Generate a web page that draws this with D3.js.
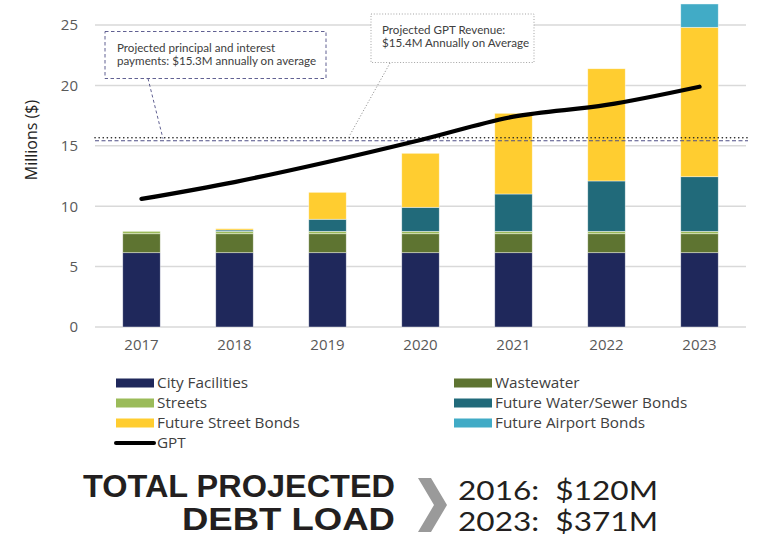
<!DOCTYPE html>
<html>
<head>
<meta charset="utf-8">
<script src="https://cdn.jsdelivr.net/npm/d3@7"></script>
<style>
  body { margin: 0; background: #fff; }
  svg { display: block; }
</style>
</head>
<body>
<svg id="chart"></svg>
<script>
// Data (millions of $)
const years = ["2017", "2018", "2019", "2020", "2021", "2022", "2023"];
const cityFacilities = [6.15, 6.15, 6.15, 6.15, 6.15, 6.15, 6.15];
const wastewater = [1.57, 1.57, 1.57, 1.57, 1.57, 1.57, 1.57];
const streets = [0.2, 0.2, 0.2, 0.2, 0.2, 0.2, 0.2];
const waterSewerBonds = [0, 0.11, 1.0, 1.99, 3.09, 4.17, 4.52];
const streetBonds = [0, 0.11, 2.23, 4.47, 6.68, 9.29, 12.37];
const airportBonds = [0, 0, 0, 0, 0, 0, 1.93];
const gpt = [10.6, 12.0, 13.66, 15.48, 17.41, 18.38, 19.89];
const yTicks = [0, 5, 10, 15, 20, 25];
const gptAverage = 15.67;      // dotted line
const paymentAverage = 15.42;  // dashed line

const seriesNames = ["City Facilities", "Wastewater", "Streets", "Future Water/Sewer Bonds", "Future Street Bonds", "Future Airport Bonds"];
const seriesValues = [cityFacilities, wastewater, streets, waterSewerBonds, streetBonds, airportBonds];
const colors = ["#1f285b", "#5e7431", "#9bbb59", "#216a7a", "#ffcd30", "#41abc6"];

const width = 762, height = 537;
const svg = d3.select("#chart").attr("width", width).attr("height", height);

const x = d3.scaleBand().domain(years).range([95, 746]).paddingInner(0.597).paddingOuter(0.2985);
const y = d3.scaleLinear().domain([0, 25]).range([327, 25]);

// build rows for the stack
const rows = years.map((yr, i) => {
    const r = { year: yr };
    seriesNames.forEach((n, k) => r[n] = seriesValues[k][i]);
    return r;
});
const stacked = d3.stack().keys(seriesNames)(rows);

// gridlines
svg.append("g")
    .selectAll("line")
    .data(yTicks)
    .join("line")
    .attr("x1", 95).attr("x2", 746)
    .attr("y1", d => y(d)).attr("y2", d => y(d))
    .attr("stroke", "#d9d9d9")
    .attr("stroke-width", 1.5);

// y axis labels
const yAxis = svg.append("g")
    .attr("transform", "translate(95,0)")
    .call(d3.axisLeft(y).tickValues(yTicks).tickSize(0).tickPadding(17));
yAxis.select(".domain").remove();
yAxis.selectAll("text")
    .attr("fill", "#595959")
    .style("font-family", "'Open Sans', sans-serif")
    .style("font-size", "15px");

// x axis labels
const xAxis = svg.append("g")
    .attr("transform", "translate(0,327)")
    .call(d3.axisBottom(x).tickSize(0).tickPadding(12));
xAxis.select(".domain").remove();
xAxis.selectAll("text")
    .attr("fill", "#595959")
    .style("font-family", "'Open Sans', sans-serif")
    .style("font-size", "15px");

// axis title
svg.append("text")
    .attr("transform", "translate(37,140) rotate(-90)")
    .attr("text-anchor", "middle")
    .attr("fill", "#222")
    .style("font-family", "'Open Sans', sans-serif")
    .style("font-size", "16px")
    .text("Millions ($)");

// stacked bars
svg.append("g")
    .selectAll("g")
    .data(stacked)
    .join("g")
    .attr("fill", (d, i) => colors[i])
    .selectAll("rect")
    .data(d => d.filter(p => p[1] - p[0] > 0))
    .join("rect")
    .attr("x", d => x(d.data.year))
    .attr("width", x.bandwidth())
    .attr("y", d => y(d[1]))
    .attr("height", d => y(d[0]) - y(d[1]))
    .attr("stroke", "#fff")
    .attr("stroke-opacity", 0.6)
    .attr("stroke-width", 0.7);

// average lines
svg.append("line")
    .attr("x1", 95).attr("x2", 748)
    .attr("y1", y(paymentAverage)).attr("y2", y(paymentAverage))
    .attr("stroke", "#4f4f86")
    .attr("stroke-width", 1.2)
    .attr("stroke-dasharray", "4,2.5");
svg.append("line")
    .attr("x1", 95).attr("x2", 748)
    .attr("y1", y(gptAverage)).attr("y2", y(gptAverage))
    .attr("stroke", "#222")
    .attr("stroke-width", 1.6)
    .attr("stroke-linecap", "round")
    .attr("stroke-dasharray", "0.1,4");

// GPT line
const line = d3.line()
    .x((d, i) => x(years[i]) + x.bandwidth() / 2)
    .y(d => y(d))
    .curve(d3.curveMonotoneX);
svg.append("path")
    .datum(gpt)
    .attr("d", line)
    .attr("fill", "none")
    .attr("stroke", "#000")
    .attr("stroke-width", 4.3)
    .attr("stroke-linecap", "round");

// annotation: payments
svg.append("line")
    .attr("x1", 148).attr("y1", 78.5).attr("x2", 163).attr("y2", y(paymentAverage) - 2)
    .attr("stroke", "#4f4f86").attr("stroke-width", 0.9).attr("stroke-dasharray", "3,2.5");
svg.append("rect")
    .attr("x", 105).attr("y", 31.5).attr("width", 221).attr("height", 47)
    .attr("fill", "#fff")
    .attr("stroke", "#4f4f86").attr("stroke-width", 0.9).attr("stroke-dasharray", "3.5,2.5");
const ann1 = svg.append("text")
    .attr("fill", "#404040")
    .style("font-family", "Lato, sans-serif")
    .style("font-size", "11.6px");
ann1.append("tspan").attr("x", 117).attr("y", 52).text("Projected principal and interest");
ann1.append("tspan").attr("x", 117).attr("y", 65).text("payments: $15.3M annually on average");

// annotation: GPT revenue
svg.append("line")
    .attr("x1", 390).attr("y1", 63).attr("x2", 349).attr("y2", y(gptAverage) - 1)
    .attr("stroke", "#777").attr("stroke-width", 0.9).attr("stroke-dasharray", "1,2");
svg.append("rect")
    .attr("x", 371).attr("y", 14).attr("width", 163).attr("height", 48.5)
    .attr("fill", "#fff")
    .attr("stroke", "#999").attr("stroke-width", 0.9).attr("stroke-dasharray", "1,1.8");
const ann2 = svg.append("text")
    .attr("fill", "#404040")
    .style("font-family", "Lato, sans-serif")
    .style("font-size", "11.6px");
ann2.append("tspan").attr("x", 382).attr("y", 34).text("Projected GPT Revenue:");
ann2.append("tspan").attr("x", 382).attr("y", 47).text("$15.4M Annually on Average");

// legend
const legendItems = [
    { name: "City Facilities", color: colors[0], col: 0, row: 0 },
    { name: "Wastewater", color: colors[1], col: 1, row: 0 },
    { name: "Streets", color: colors[2], col: 0, row: 1 },
    { name: "Future Water/Sewer Bonds", color: colors[3], col: 1, row: 1 },
    { name: "Future Street Bonds", color: colors[4], col: 0, row: 2 },
    { name: "Future Airport Bonds", color: colors[5], col: 1, row: 2 },
    { name: "GPT", color: "#000", col: 0, row: 3, isLine: true }
];
const legend = svg.append("g")
    .selectAll("g")
    .data(legendItems)
    .join("g")
    .attr("transform", d => `translate(${d.col ? 454 : 116},${383 + d.row * 20})`);
legend.filter(d => !d.isLine).append("rect")
    .attr("x", 0).attr("y", -4.5).attr("width", 38).attr("height", 9)
    .attr("fill", d => d.color);
legend.filter(d => d.isLine).append("line")
    .attr("x1", 0).attr("x2", 38).attr("y1", 0).attr("y2", 0)
    .attr("stroke", "#000").attr("stroke-width", 4).attr("stroke-linecap", "round");
legend.append("text")
    .attr("x", 41).attr("y", 0).attr("dy", "0.35em")
    .attr("fill", "#404040")
    .style("font-family", "'Open Sans', sans-serif")
    .style("font-size", "15.3px")
    .text(d => d.name);

// footer
svg.append("text")
    .attr("x", 395).attr("y", 497)
    .attr("text-anchor", "end")
    .attr("fill", "#231f20")
    .attr("textLength", 312).attr("lengthAdjust", "spacingAndGlyphs")
    .style("font-family", "'Liberation Sans', Arial, sans-serif")
    .style("font-weight", "bold")
    .style("font-size", "31px")
    .text("TOTAL PROJECTED");
svg.append("text")
    .attr("x", 395).attr("y", 530)
    .attr("text-anchor", "end")
    .attr("fill", "#231f20")
    .attr("textLength", 213).attr("lengthAdjust", "spacingAndGlyphs")
    .style("font-family", "'Liberation Sans', Arial, sans-serif")
    .style("font-weight", "bold")
    .style("font-size", "31px")
    .text("DEBT LOAD");
svg.append("polygon")
    .attr("points", "418,478 431,478 447,505 431,532 418,532 434,505")
    .attr("fill", "#9a9a9a");
svg.append("text")
    .attr("x", 458).attr("y", 500)
    .attr("fill", "#231f20")
    .attr("textLength", 200).attr("lengthAdjust", "spacingAndGlyphs")
    .style("font-family", "Lato, sans-serif")
    .style("font-weight", 400)
    .style("font-size", "27.5px")
    .style("white-space", "pre")
    .text("2016:  $120M");
svg.append("text")
    .attr("x", 458).attr("y", 531)
    .attr("fill", "#231f20")
    .attr("textLength", 200).attr("lengthAdjust", "spacingAndGlyphs")
    .style("font-family", "Lato, sans-serif")
    .style("font-weight", 400)
    .style("font-size", "27.5px")
    .style("white-space", "pre")
    .text("2023:  $371M");
</script>
</body>
</html>
